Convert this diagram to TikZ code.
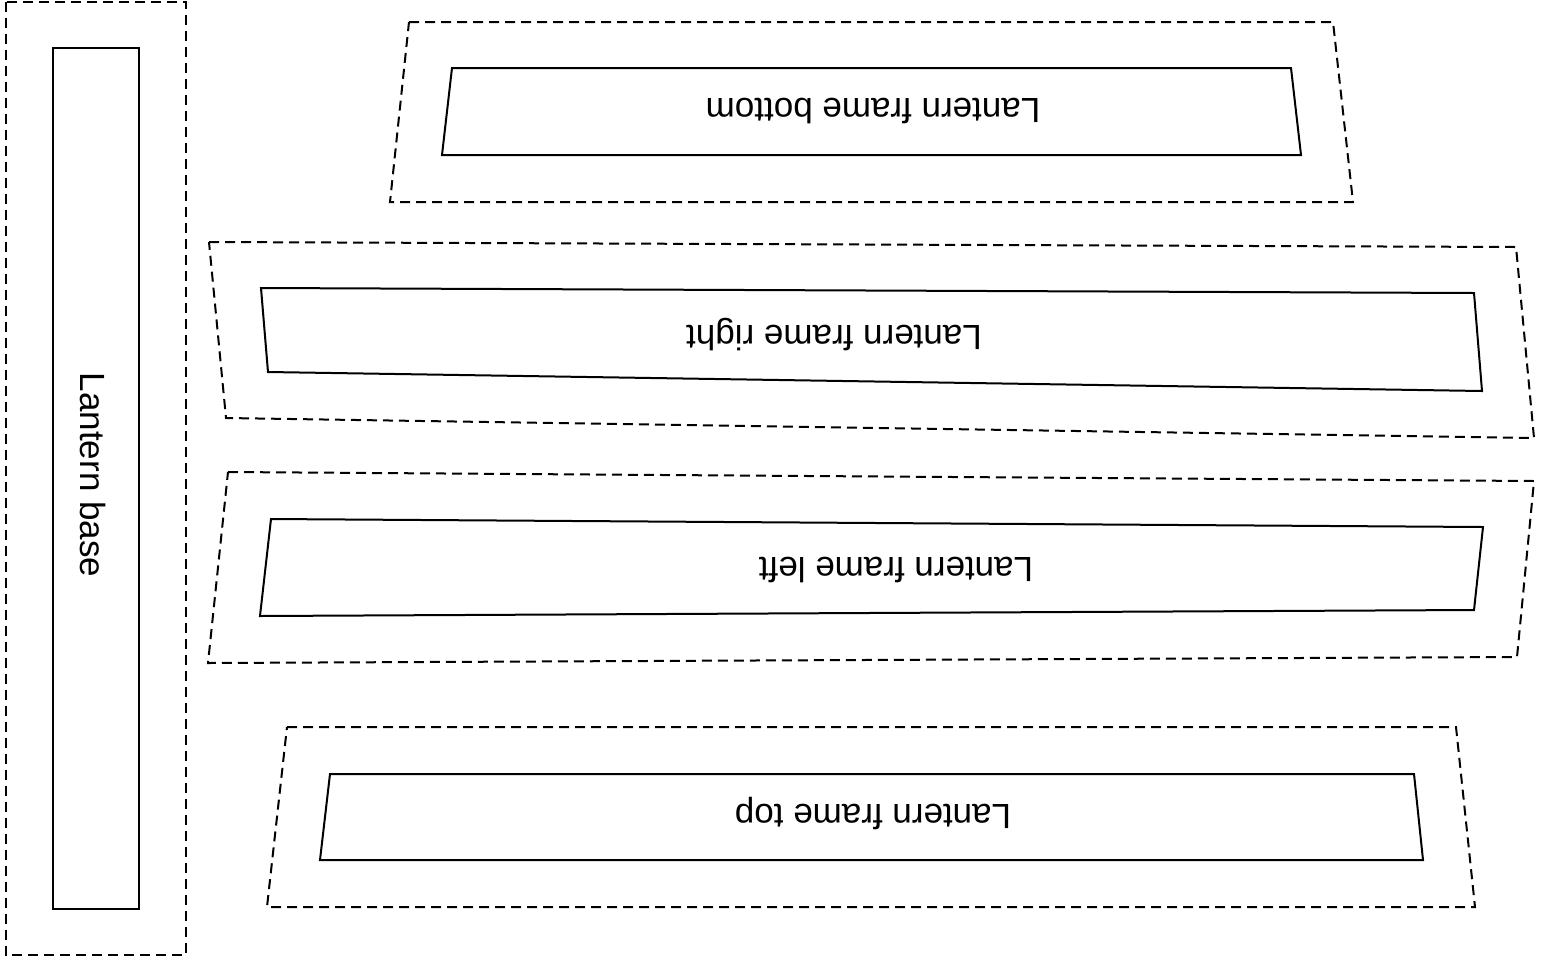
\documentclass[tikz,border=0pt]{standalone}
\usepackage{fontspec}
\setmainfont{Liberation Sans}
\usetikzlibrary{positioning}
\tikzset{
  cutline/.style={line width=2pt, line join=miter},
  sheetline/.style={line width=2pt, dash pattern=on 10pt off 6pt},
  partname/.style={font=\fontsize{35}{40}\selectfont, inner sep=0pt,
    text height=25.5pt, text depth=0pt}
}

\begin{document}
\begin{tikzpicture}[x=1pt, y=-1pt]

\useasboundingbox (0,0) rectangle (1547,962);

% Lantern base
\draw[sheetline] (5.7,1.5) rectangle (185.7,955);
\draw[cutline] (52.5,47.5) rectangle (139,909);
\node[partname, rotate=-90] (base) at (93.5,475) {Lantern base};

% Lantern frame bottom
\coordinate (B1) at (409,22);
\coordinate (B2) at (1333,22);
\coordinate (B3) at (1353,202);
\coordinate (B4) at (390,202);
\draw[sheetline] (B1) -- (B2) -- (B3) -- (B4) -- cycle;
\draw[cutline] (452,68) -- (1291,68) -- (1301,155) -- (442,155) -- cycle;
\node[partname, rotate=180] (bottom) at (873,111) {Lantern frame bottom};

% Lantern frame right
\coordinate (R1) at (209,242);
\coordinate (R2) at (1516,247);
\coordinate (R3) at (1534,438);
\coordinate (R4) at (226,418);
\draw[sheetline] (R1) -- (R2) -- (R3) -- (R4) -- cycle;
\draw[cutline] (261,288) -- (1474,293) -- (1482,391) -- (268,372) -- cycle;
\node[partname, rotate=180] (right) at (834,338) {Lantern frame right};

% Lantern frame left
\coordinate (L1) at (228,472);
\coordinate (L2) at (1534,481);
\coordinate (L3) at (1517,657);
\coordinate (L4) at (208,663);
\draw[sheetline] (L1) -- (L2) -- (L3) -- (L4) -- cycle;
\draw[cutline] (271,519) -- (1483,527) -- (1474,610) -- (260,616) -- cycle;
\node[partname, rotate=180] (left) at (896,570) {Lantern frame left};

% Lantern frame top
\coordinate (T1) at (287,727);
\coordinate (T2) at (1456,727);
\coordinate (T3) at (1475,907);
\coordinate (T4) at (267,907);
\draw[sheetline] (T1) -- (T2) -- (T3) -- (T4) -- cycle;
\draw[cutline] (330,774) -- (1414,774) -- (1423,860) -- (320,860) -- cycle;
\node[partname, rotate=180] (top) at (873,817) {Lantern frame top};

\end{tikzpicture}
\end{document}
